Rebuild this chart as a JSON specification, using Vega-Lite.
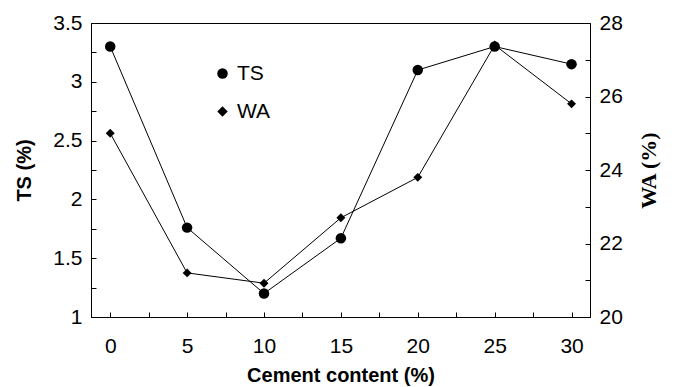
{
  "$schema": "https://vega.github.io/schema/vega-lite/v6.json",
  "width": 499,
  "height": 294,
  "autosize": {"type": "none"},
  "padding": {"left": 91, "top": 23, "right": 84, "bottom": 70},
  "background": "white",
  "config": {
    "view": {"stroke": "black", "strokeWidth": 1},
    "font": "Liberation Sans",
    "axis": {"domainColor": "black", "tickColor": "black", "labelColor": "black", "titleColor": "black", "grid": false, "tickSize": -5, "labelFontSize": 21, "titleFontSize": 20, "titleFontWeight": "bold"}
  },
  "data": {
    "values": [
      {"cement": 0, "series": "TS", "value": 3.3},
      {"cement": 5, "series": "TS", "value": 1.76},
      {"cement": 10, "series": "TS", "value": 1.2},
      {"cement": 15, "series": "TS", "value": 1.67},
      {"cement": 20, "series": "TS", "value": 3.1},
      {"cement": 25, "series": "TS", "value": 3.3},
      {"cement": 30, "series": "TS", "value": 3.15},
      {"cement": 0, "series": "WA", "value": 25.0},
      {"cement": 5, "series": "WA", "value": 21.2},
      {"cement": 10, "series": "WA", "value": 20.92},
      {"cement": 15, "series": "WA", "value": 22.7},
      {"cement": 20, "series": "WA", "value": 23.8},
      {"cement": 25, "series": "WA", "value": 27.4},
      {"cement": 30, "series": "WA", "value": 25.8}
    ]
  },
  "encoding": {
    "x": {
      "field": "cement",
      "type": "quantitative",
      "scale": {"domain": [-1.25, 31.2], "nice": false, "zero": false},
      "axis": {
        "title": "Cement content (%)",
        "values": [0, 2.5, 5, 7.5, 10, 12.5, 15, 17.5, 20, 22.5, 25, 27.5, 30],
        "labelExpr": "datum.value % 5 == 0 ? format(datum.value, 'd') : ''",
        "labelPadding": 23,
        "titlePadding": 9
      }
    }
  },
  "layer": [
    {
      "transform": [{"filter": "datum.series == 'TS'"}],
      "encoding": {
        "y": {
          "field": "value",
          "type": "quantitative",
          "scale": {"domain": [1, 3.5], "nice": false, "zero": false},
          "axis": {
            "title": "TS (%)",
            "orient": "left",
            "values": [1, 1.25, 1.5, 1.75, 2, 2.25, 2.5, 2.75, 3, 3.25, 3.5],
            "labelExpr": "datum.value % 0.5 == 0 ? format(datum.value, '~g') : ''",
            "labelPadding": 14,
            "titlePadding": 18
          }
        }
      },
      "layer": [
        {"mark": {"type": "line", "color": "black", "strokeWidth": 1}},
        {
          "mark": {"type": "point", "filled": true, "color": "black", "opacity": 1, "size": 110},
          "encoding": {
            "shape": {
              "datum": "TS",
              "type": "nominal",
              "scale": {"domain": ["TS", "WA"], "range": ["circle", "diamond"]},
              "legend": {
                "title": null,
                "orient": "none",
                "legendX": 121,
                "legendY": 40,
                "labelFontSize": 21,
                "symbolSize": 110,
                "symbolFillColor": "black",
                "symbolStrokeColor": "black",
                "rowPadding": 16,
                "labelOffset": 4
              }
            }
          }
        }
      ]
    },
    {
      "transform": [{"filter": "datum.series == 'WA'"}],
      "encoding": {
        "y": {
          "field": "value",
          "type": "quantitative",
          "scale": {"domain": [20, 28], "nice": false, "zero": false},
          "axis": {
            "title": "WA (%)",
            "orient": "right",
            "values": [20, 21, 22, 23, 24, 25, 26, 27, 28],
            "labelExpr": "datum.value % 2 == 0 ? format(datum.value, 'd') : ''",
            "labelPadding": 14,
            "titleFont": "Liberation Serif",
            "titleFontSize": 22,
            "titleAngle": 270,
            "titlePadding": 38
          }
        }
      },
      "layer": [
        {"mark": {"type": "line", "color": "black", "strokeWidth": 1}},
        {
          "mark": {"type": "point", "filled": true, "color": "black", "opacity": 1, "size": 80},
          "encoding": {
            "shape": {"datum": "WA", "type": "nominal"}
          }
        }
      ]
    }
  ],
  "resolve": {"scale": {"y": "independent"}}
}
